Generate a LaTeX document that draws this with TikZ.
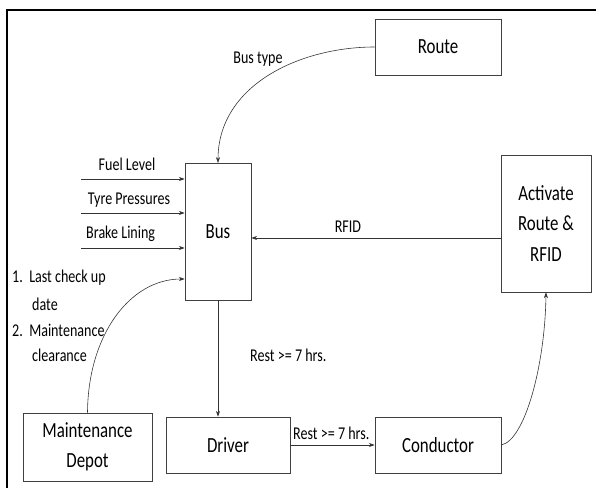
\documentclass[tikz,border=0pt]{standalone}
\usepackage{fontspec}
\usepackage{graphicx}
\setmainfont{Carlito}
\usetikzlibrary{arrows.meta}
\newcommand{\tallt}[1]{\scalebox{1}[1.28]{#1}}

\begin{document}
\begin{tikzpicture}[x=0.03cm, y=-0.03cm,
        box/.style={draw=black!75, line width=0.6pt, inner sep=0pt, align=center,
            font=\fontsize{14.4}{26}\selectfont},
        lbl/.style={inner sep=0pt, font=\fontsize{12}{21}\selectfont},
        flow/.style={draw=black!80, line width=0.5pt, -{Stealth[length=5pt,width=3.5pt]}}]
    \useasboundingbox (0,0) rectangle (596,488);
    \draw [line width=2.5pt] (596,10) -- (7,10) -- (7,488);

    \node [box, minimum width=3.78cm, minimum height=1.68cm] (route) at (438,47) {\tallt{Route}};
    \node [box, minimum width=2.7cm, minimum height=4.11cm] (activate) at (546,223.5) {\tallt{Activate}\\\tallt{Route \&}\\\tallt{RFID}};
    \node [box, minimum width=1.98cm, minimum height=4.11cm] (bus) at (218,231.5) {\tallt{Bus}};
    \node [box, minimum width=3.87cm, minimum height=2.04cm] (depot) at (87.5,447) {\tallt{Maintenance}\\\tallt{Depot}};
    \node [box, minimum width=3.72cm, minimum height=1.68cm] (driver) at (228,445) {\tallt{Driver}};
    \node [box, minimum width=3.78cm, minimum height=1.68cm] (conductor) at (438,445) {\tallt{Conductor}};

    % inputs on the left of the bus
    \coordinate (fuel) at (81,179);
    \coordinate (tyre) at (81,213);
    \coordinate (brake) at (81,248);
    \node [lbl] (fuellbl) at (127,164) {\tallt{Fuel Level}};
    \node [lbl] (tyrelbl) at (129,200) {\tallt{Tyre Pressures}};
    \node [lbl, anchor=west] (brakelbl) at (86,234) {\tallt{Brake Lining}};
    \draw [flow] (fuel) -- (fuel -| bus.west);
    \draw [flow] (tyre) -- (tyre -| bus.west);
    \draw [flow] (brake) -- (brake -| bus.west);

    \node [lbl] (bustype) at (258,59) {\tallt{Bus type}};
    \draw [flow] (route.west) .. controls (300,47) and (218,85) .. (218,163);

    \node [lbl] (rfid) at (348,227) {\tallt{RFID}};
    \draw [flow] (activate.west |- 0,238) -- (bus.east |- 0,238);

    \node [lbl, anchor=west] (check) at (12,278) {\tallt{1.\ \ Last check up}};
    \node [lbl, anchor=west] (date) at (32,304) {\tallt{date}};
    \node [lbl, anchor=west] (maint) at (12,330) {\tallt{2.\ \ Maintenance}};
    \node [lbl, anchor=west] (clear) at (32,355) {\tallt{clearance}};
    \draw [flow] (depot.north) .. controls (88,335) and (130,279) .. (bus.west |- 0,279);

    \node [lbl, anchor=west] (rest1) at (250,355) {\tallt{Rest >= 7 hrs.}};
    \draw [flow] (bus.south) -- (driver.north -| bus.south);

    \node [lbl, anchor=west] (rest2) at (293,433) {\tallt{Rest >= 7 hrs.}};
    \draw [flow] (driver.east) -- (conductor.west);

    \draw [flow] (conductor.east) .. controls (525,440) and (545,365) .. (activate.south);
\end{tikzpicture}
\end{document}
